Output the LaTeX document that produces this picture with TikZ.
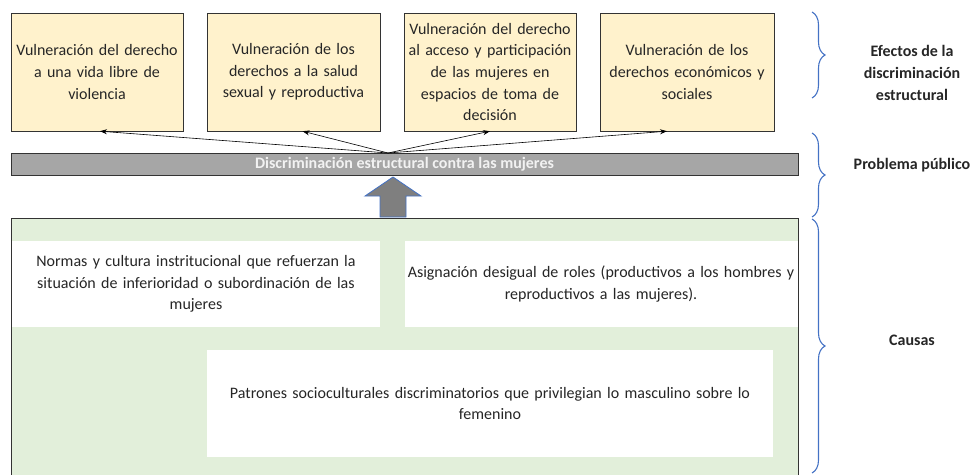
\documentclass[tikz,border=0pt]{standalone}
\usepackage{fontspec}
\setmainfont{Carlito}
\usetikzlibrary{decorations.pathreplacing,arrows.meta}

\definecolor{efecto}{HTML}{FFF2CC}
\definecolor{causafondo}{HTML}{E2EFDA}
\definecolor{barra}{HTML}{A6A6A6}
\definecolor{flecha}{HTML}{7F7F7F}
\definecolor{azul}{HTML}{4472C4}
\definecolor{texto}{HTML}{262626}

\begin{document}
\begin{tikzpicture}[x=1pt,y=-1pt,
  font=\fontsize{16}{21.7}\selectfont,
  every node/.style={text=texto},
  efectobox/.style={draw=black!80,fill=efecto,minimum height=118pt,align=center,inner sep=1pt},
  causabox/.style={fill=white,align=center,inner sep=1pt},
  etiqueta/.style={align=center,font=\fontsize{16}{21.7}\selectfont\bfseries},
  llave/.style={draw=azul,line width=1.1pt,decorate,decoration={brace,amplitude=13pt}},
  conector/.style={-{Stealth[length=7pt,width=5pt]},black,line width=0.6pt}]
\useasboundingbox (0,0) rectangle (971,474);

% efectos
\node[efectobox,minimum width=172pt,text width=170pt] (ef1) at (97,72)
  {Vulneración del derecho\\a una vida libre de\\violencia};
\node[efectobox,minimum width=173pt,text width=171pt] (ef2) at (293.5,72)
  {Vulneración de los\\derechos a la salud\\sexual y reproductiva};
\node[efectobox,minimum width=172pt,text width=170pt] (ef3) at (490,72)
  {Vulneración del derecho\\al acceso y participación\\de las mujeres en\\espacios de toma de\\decisión};
\node[efectobox,minimum width=174pt,text width=172pt] (ef4) at (687,72)
  {Vulneración de los\\derechos económicos y\\sociales};

% problema
\node[draw=black!80,fill=barra,minimum width=787pt,minimum height=22pt,inner sep=0pt,
  font=\fontsize{16}{16}\selectfont\bfseries,text=white!95!black] (problema) at (404.5,164)
  {Discriminación estructural contra las mujeres};
\coordinate (origen) at (388,153);
\draw[conector] (origen) -- ([xshift=3pt]ef1.south);
\draw[conector] (origen) -- ([xshift=9pt]ef2.south);
\draw[conector] (origen) -- (ef3.south);
\draw[conector] (origen) -- ([xshift=-20pt]ef4.south);

% causas
\node[draw=black!80,fill=causafondo,minimum width=787pt,minimum height=262pt,inner sep=0pt,
  anchor=north west] (fondo) at (11,218) {};
\node[causabox,minimum width=368pt,minimum height=86pt,text width=366pt] (ca1) at (196,284)
  {Normas y cultura instritucional que refuerzan la\\situación de inferioridad o subordinación de las\\mujeres};
\node[causabox,minimum width=393pt,minimum height=86pt,text width=391pt] (ca2) at (601,284)
  {Asignación desigual de roles (productivos a los hombres y\\reproductivos a las mujeres).};
\node[causabox,minimum width=566pt,minimum height=107pt,text width=564pt] (ca3) at (490,403.5)
  {Patrones socioculturales discriminatorios que privilegian lo masculino sobre lo\\femenino};

% flecha de bloque
\draw[fill=flecha,draw=azul,line width=0.8pt]
  (380,217) -- (380,196) -- (365,196) -- (393,177) -- (421,196) -- (406,196) -- (406,217) -- cycle;

% llaves
\coordinate (l1a) at (812,12);
\coordinate (l1b) at (812,98);
\coordinate (l2a) at (812,133);
\coordinate (l2b) at (812,217);
\coordinate (l3a) at (812,219);
\coordinate (l3b) at (812,473);
\draw[llave] (l1a) -- (l1b);
\draw[llave] (l2a) -- (l2b);
\draw[llave] (l3a) -- (l3b);
\node[etiqueta] (et1) at (912,73) {Efectos de la\\discriminación\\estructural};
\node[etiqueta] (et2) at (912,165) {Problema público};
\node[etiqueta] (et3) at (912,340) {Causas};
\end{tikzpicture}
\end{document}
